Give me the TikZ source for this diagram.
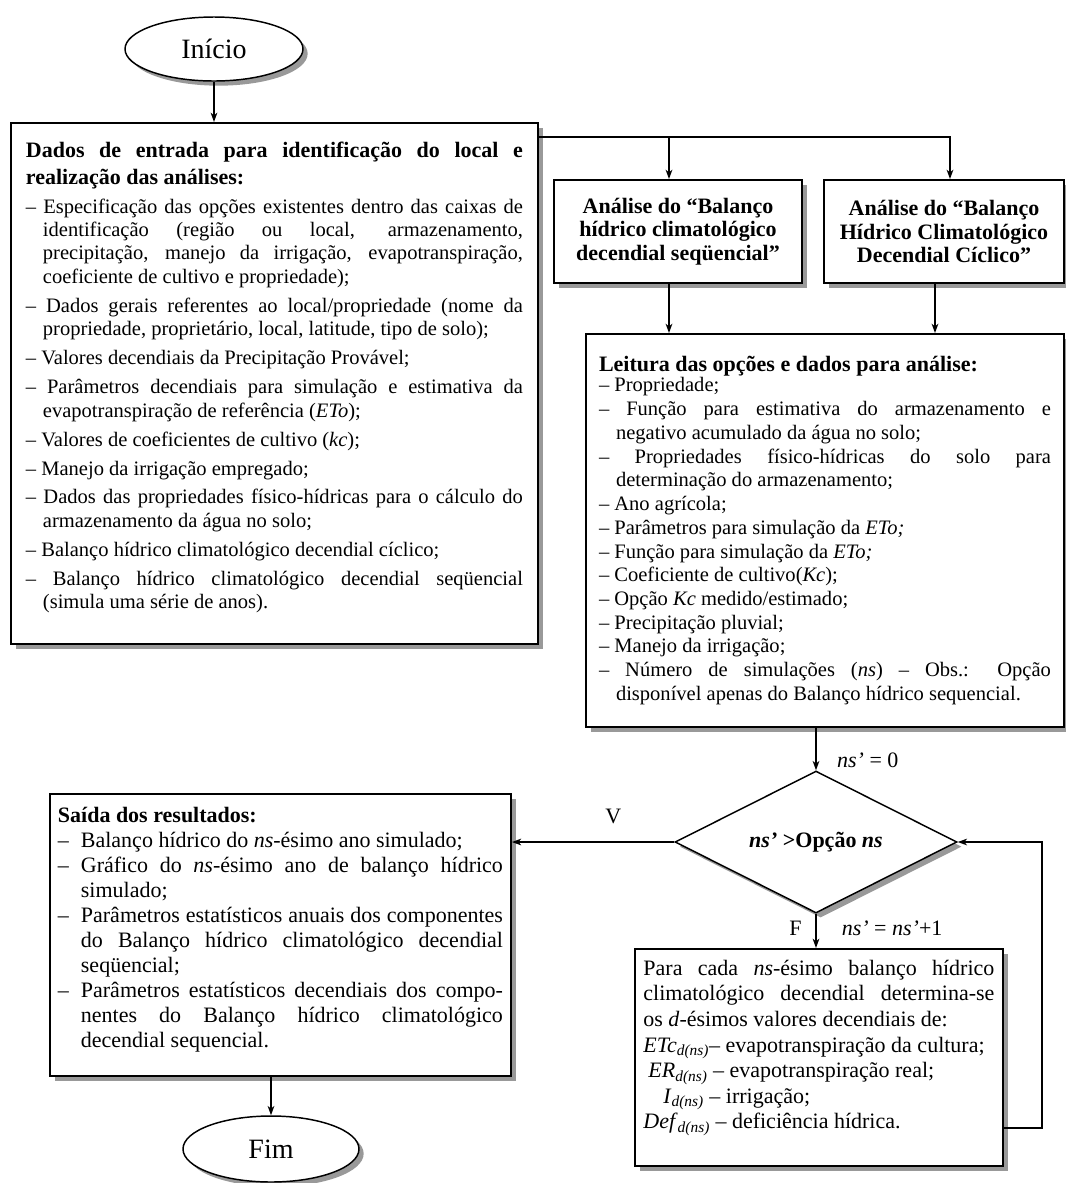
\documentclass[tikz,border=0pt]{standalone}
\usepackage{fontspec}
\setmainfont{Liberation Serif}
\usetikzlibrary{shapes.geometric,shadows,arrows.meta}
\tolerance=10000

% item com travessão e recuo
\newcommand{\traco}{\par\hangindent=12.75pt\hangafter=1\noindent–\ }
\newcommand{\tracosai}{\par\hangindent=17.25pt\hangafter=1\noindent\makebox[17.25pt][l]{–}}
\newcommand{\dns}{\textsubscript{\textit{d(ns)}}}

\begin{document}
\begin{tikzpicture}[x=0.75pt,y=-0.75pt,
    font=\fontsize{15.4}{17.6}\selectfont,
    sombra/.style={drop shadow={shadow xshift=3.5pt,shadow yshift=-3.5pt,fill=gray!80,opacity=1}},
    caixa/.style={rectangle,draw,line width=1.4pt,fill=white,sombra,inner sep=0pt},
    terminal/.style={ellipse,draw,line width=1.1pt,fill=white,sombra,inner sep=0pt,font=\fontsize{21}{24}\selectfont},
    titulo/.style={caixa,align=center,font=\fontsize{16.5}{17.6}\selectfont\bfseries},
    decisao/.style={diamond,draw,line width=1.1pt,fill=white,sombra,aspect=2,inner sep=0pt,font=\fontsize{16.5}{19}\selectfont\bfseries},
    seta/.style={line width=1.1pt,-{Stealth[length=7pt,width=5pt,inset=2pt]}},
    rotulo/.style={font=\fontsize{16.5}{19}\selectfont}]
  \useasboundingbox (0,0) rectangle (1066,1183);

  % início
  \node[terminal,minimum width=133.5pt,minimum height=48pt] (inicio) at (214,49) {Início};

  % dados de entrada
  \node[caixa,anchor=north west,inner xsep=11.25pt,inner ysep=14pt] (dados) at (10,122) {%
    \begin{minipage}[t][362.75pt][t]{372.75pt}
      {\fontsize{16.5}{20.25}\selectfont\bfseries Dados de entrada para identificação do local e\linebreak realização das análises:\par}
      \setlength{\parskip}{4.1pt}
      \traco Especificação das opções existentes dentro das caixas de\linebreak identificação (região ou local, armazenamento,\linebreak precipitação, manejo da irrigação, evapotranspiração,\linebreak coeficiente de cultivo e propriedade);
      \traco Dados gerais referentes ao local/propriedade (nome da\linebreak propriedade, proprietário, local, latitude, tipo de solo);
      \traco Valores decendiais da Precipitação Provável;
      \traco Parâmetros decendiais para simulação e estimativa da\linebreak evapotranspiração de referência (\textit{ETo});
      \traco Valores de coeficientes de cultivo (\textit{kc});
      \traco Manejo da irrigação empregado;
      \traco Dados das propriedades físico-hídricas para o cálculo do\linebreak armazenamento da água no solo;
      \traco Balanço hídrico climatológico decendial cíclico;
      \traco Balanço hídrico climatológico decendial seqüencial\linebreak (simula uma série de anos).
    \end{minipage}};

  % análises
  \node[titulo,minimum width=186pt,minimum height=77.25pt] (seq) at (678,231.5) {Análise do “Balanço\\hídrico climatológico\\decendial seqüencial”};
  \node[titulo,minimum width=180pt,minimum height=77.25pt] (cic) at (944,231.5) {Análise do “Balanço\\Hídrico Climatológico\\Decendial Cíclico”};

  % leitura
  \node[caixa,minimum width=358.5pt,minimum height=294.75pt] (leit) at (825,530.5) {%
    \begin{minipage}{339pt}
      \fontsize{15.4}{17.8}\selectfont
      {\fontsize{16.5}{17.8}\selectfont\bfseries Leitura das opções e dados para análise:\par}
      \vspace{-2.5pt}
      \traco Propriedade;
      \traco Função para estimativa do armazenamento e\linebreak negativo acumulado da água no solo;
      \traco Propriedades físico-hídricas do solo para\linebreak determinação do armazenamento;
      \traco Ano agrícola;
      \traco Parâmetros para simulação da \textit{ETo;}
      \traco Função para simulação da \textit{ETo;}
      \traco Coeficiente de cultivo(\textit{Kc});
      \traco Opção \textit{Kc} medido/estimado;
      \traco Precipitação pluvial;
      \traco Manejo da irrigação;
      \traco Número de simulações (\textit{ns}) – Obs.: Opção\linebreak disponível apenas do Balanço hídrico sequencial.
    \end{minipage}};

  % decisão
  \node[decisao,minimum width=211.5pt,minimum height=106.5pt] (dec) at (816,842) {\textit{ns’} >Opção \textit{ns}};

  % saída
  \node[caixa,anchor=north west,inner xsep=6pt,inner ysep=10pt,font=\fontsize{16.5}{18.75}\selectfont] (saida) at (49,793) {%
    \begin{minipage}[t][191.5pt][t]{333.75pt}
      \textbf{Saída dos resultados:}
      \tracosai Balanço hídrico do \textit{ns}-ésimo ano simulado;
      \tracosai Gráfico do \textit{ns}-ésimo ano de balanço hídrico\linebreak simulado;
      \tracosai Parâmetros estatísticos anuais dos componentes\linebreak do Balanço hídrico climatológico decendial\linebreak seqüencial;
      \tracosai Parâmetros estatísticos decendiais dos compo-\linebreak nentes do Balanço hídrico climatológico\linebreak decendial sequencial.
    \end{minipage}};

  % cada simulação
  \node[caixa,anchor=north west,inner xsep=6.375pt,inner ysep=8.25pt,font=\fontsize{16.5}{19.2}\selectfont] (para) at (634,948) {%
    \begin{minipage}[t][146.25pt][t]{263.25pt}
      Para cada \textit{ns}-ésimo balanço hídrico\linebreak climatológico decendial determina-se\linebreak os \textit{d}-ésimos valores decendiais de:\\
      \textit{ETc}\dns– evapotranspiração da cultura;\\
      \hspace*{3.75pt}\textit{ER}\dns\ – evapotranspiração real;\\
      \hspace*{15pt}\textit{I}\dns\ – irrigação;\\
      \textit{Def}\dns\ – deficiência hídrica.
    \end{minipage}};

  % fim
  \node[terminal,minimum width=132pt,minimum height=49.5pt] (fim) at (271,1149) {Fim};

  % ligações
  \draw[seta] (inicio) -- (inicio |- dados.north);
  \coordinate (ramo) at ([yshift=-11.25pt]dados.north east);
  \coordinate (seqin) at ([xshift=-6.75pt]seq.north);
  \coordinate (cicin) at ([xshift=4.5pt]cic.north);
  \draw[seta] (ramo) -| (cicin);
  \draw[seta] (seqin |- ramo) -- (seqin);
  \coordinate (seqout) at ([xshift=-6.75pt]seq.south);
  \coordinate (cicout) at ([xshift=-6.75pt]cic.south);
  \draw[seta] (seqout) -- (seqout |- leit.north);
  \draw[seta] (cicout) -- (cicout |- leit.north);
  \draw[seta] (dec.north |- leit.south) -- node[rotulo,right=12pt,pos=0.77]{\textit{ns’} = 0} (dec.north);
  \draw[seta] (dec.west) -- node[rotulo,above=9.5pt,pos=0.376]{V} (dec.west -| saida.east);
  \draw[seta] (dec.south) -- node[rotulo,left=7pt,pos=0.42]{F} node[rotulo,right=15.5pt,pos=0.42]{\textit{ns’} = \textit{ns’}+1} (dec.south |- para.north);
  \draw[seta] ([yshift=-53pt]para.east) -- ++(28.5pt,0) |- (dec.east);
  \draw[seta] (fim.north |- saida.south) -- (fim.north);
\end{tikzpicture}
\end{document}
